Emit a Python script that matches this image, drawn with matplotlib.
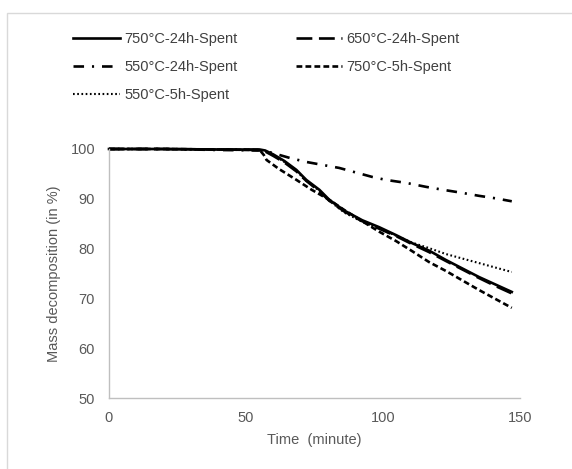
import matplotlib
matplotlib.use("Agg")
import matplotlib.pyplot as plt
from matplotlib.patches import Rectangle

plt.rcParams['font.family'] = ['Liberation Sans', 'DejaVu Sans']

# time (minute) and mass (%)
t_750_24 = [0, 20, 40, 55, 57, 60, 64, 68.4, 72, 76.8, 80.4, 86, 92.4, 98.6, 104.8, 110.6, 116.8, 123, 129, 135, 141, 147]
m_750_24 = [100, 100, 99.9, 99.9, 99.7, 98.9, 97.6, 95.8, 93.8, 91.8, 89.8, 87.6, 85.7, 84.3, 82.7, 81.1, 79.6, 77.7, 76.0, 74.3, 72.8, 71.3]

t_650_24 = [0, 20, 40, 55, 57, 60, 64, 68.4, 72, 76.8, 80.4, 86, 92.4, 98.6, 104.8, 110.6, 116.8, 123, 129, 135, 141, 147]
m_650_24 = [100, 100, 99.9, 99.8, 99.5, 98.6, 97.3, 95.5, 93.6, 91.5, 89.6, 87.4, 85.5, 84.0, 82.5, 80.9, 79.3, 77.5, 75.8, 74.1, 72.5, 71.0]

t_550_24 = [0, 20, 40, 55, 57, 59.7, 66, 72, 78, 84, 90, 96, 101, 108.4, 115.7, 122, 128.8, 135, 141, 147]
m_550_24 = [100, 100, 99.8, 99.7, 99.6, 99.2, 98.2, 97.4, 96.8, 96.2, 95.3, 94.4, 93.8, 93.2, 92.4, 91.8, 91.2, 90.6, 90.1, 89.5]

t_750_5 = [0, 20, 40, 55, 56.5, 57.5, 62, 68.4, 74, 80.4, 86, 92.4, 98.6, 104.8, 110.6, 116.8, 123, 129, 135, 141, 147]
m_750_5 = [100, 100, 99.9, 99.8, 98.8, 97.8, 96.0, 93.8, 91.8, 89.8, 87.7, 85.5, 83.4, 81.5, 79.5, 77.3, 75.5, 73.6, 71.7, 69.9, 68.1]

t_550_5 = [0, 20, 40, 55, 57, 60, 64, 68.4, 72, 76.8, 80.4, 86, 92.4, 98.6, 104.8, 110.6, 116.8, 123, 129, 135, 141, 147]
m_550_5 = [100, 100, 99.9, 99.8, 99.6, 98.8, 97.4, 95.6, 93.6, 91.6, 89.6, 87.2, 85.4, 84.0, 82.6, 81.2, 80.1, 78.9, 78.0, 77.1, 76.2, 75.3]

labels = ['750°C-24h-Spent', '650°C-24h-Spent', '550°C-24h-Spent',
          '750°C-5h-Spent', '550°C-5h-Spent']

fig = plt.figure(figsize=(5.72, 4.69), dpi=100)
ax = fig.add_axes([109/572, 1-398/469, (520-109)/572, (398-149)/469])

lw = 1.9
ax.plot(t_750_24, m_750_24, color='black', lw=lw, label=labels[0], clip_on=False)
ax.plot(t_650_24, m_650_24, color='black', lw=lw, dashes=(6, 2.5), label=labels[1], clip_on=False)
ax.plot(t_550_24, m_550_24, color='black', lw=lw, dashes=(4, 3, 0.8, 3), label=labels[2], clip_on=False)
ax.plot(t_750_5, m_750_5, color='black', lw=lw, dashes=(2.2, 1.2), label=labels[3], clip_on=False)
ax.plot(t_550_5, m_550_5, color='black', lw=lw * 0.8, dashes=(0.8, 1.2), label=labels[4], clip_on=False)

ax.set_xlim(0, 150)
ax.set_ylim(50, 100)
ax.set_xticks([0, 50, 100, 150])
ax.set_yticks([50, 60, 70, 80, 90, 100])
ax.tick_params(length=0, labelsize=10.5, labelcolor='#595959')
ax.tick_params(axis='x', pad=9)
ax.tick_params(axis='y', pad=10)
for side in ['top', 'right']:
    ax.spines[side].set_visible(False)
for side in ['left', 'bottom']:
    ax.spines[side].set_color('#bfbfbf')
    ax.spines[side].set_linewidth(1)

ax.set_xlabel('Time  (minute)', fontsize=10.5, color='#595959', labelpad=6)
ax.set_ylabel('Mass decomposition (in %)', fontsize=10.5, color='#595959', labelpad=7)

# row-major legend order like the reference
handles, names = ax.get_legend_handles_labels()
order = [0, 2, 4, 1, 3]
ax.legend([handles[i] for i in order], [names[i] for i in order],
          loc='upper left', bbox_to_anchor=(73/572, 1-32/469), bbox_transform=fig.transFigure,
          ncol=2, frameon=False, fontsize=10.5, handlelength=3.2, handletextpad=0.3,
          columnspacing=4.0, labelspacing=0.95, borderpad=0, borderaxespad=0,
          labelcolor='#404040')

# chart area border (left and top visible)
fig.add_artist(Rectangle((7/572, -0.1), 1.2, 1 - 13/469 + 0.1, transform=fig.transFigure,
                         fill=False, edgecolor='#d9d9d9', lw=1))

fig.savefig('out.png', dpi=100)
